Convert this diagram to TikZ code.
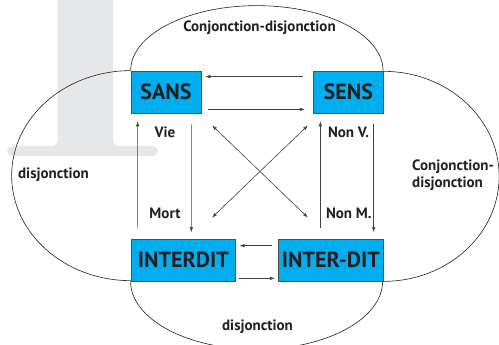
\documentclass[tikz,border=0pt]{standalone}
\usepackage{fontspec}
\setmainfont{PT Sans}
\usepackage{tikz}
\usetikzlibrary{calc,arrows.meta}
\definecolor{boxblue}{HTML}{00AEEF}
\definecolor{inkdark}{HTML}{231F20}
\definecolor{markgrey}{HTML}{E6E7E8}
\tikzset{
  word/.style={draw=inkdark!80,line width=0.7pt,fill=boxblue,text=inkdark,
    font=\bfseries\fontsize{22}{22}\selectfont,minimum height=42pt,inner sep=0pt},
  lobe/.style={draw=inkdark,line width=0.6pt},
  link/.style={draw=inkdark!85,line width=0.6pt,-{Latex[length=5pt,width=3.5pt]}},
  twolink/.style={link,{Latex[length=5pt,width=3.5pt]}-{Latex[length=5pt,width=3.5pt]}},
  tag/.style={text=inkdark,font=\bfseries\fontsize{15}{17}\selectfont,inner sep=0pt}
}

\begin{document}
\begin{tikzpicture}[x=1pt,y=1pt]
\useasboundingbox (0,0) rectangle (499,345);
\fill[white] (0,0) rectangle (499,345);
% Grey letter in the background
\fill[markgrey,rounded corners=6pt] (58,352) -- (58,199) -- (7,199) -- (7,189)
  -- (158,189) -- (158,199) -- (113,199) -- (113,352) -- cycle;
% Drawing the four boxes
\node[word,minimum width=70pt] (sans) at (166,253) {SANS};
\node[word,minimum width=70pt] (sens) at (348.3,253) {SENS};
\node[word,minimum width=104.7pt] (interdit) at (183.3,85) {INTERDIT};
\node[word,minimum width=105pt] (interdit2) at (330.8,85) {INTER-DIT};
% Drawing the four lobes
\draw[lobe] (sans.north west) arc[start angle=180,end angle=0,x radius=126.2pt,y radius=65pt];
\draw[lobe] (sans.north west) arc[start angle=90,end angle=270,x radius=119pt,y radius=105pt];
\draw[lobe] (interdit2.south east) arc[start angle=-90,end angle=90,x radius=115.5pt,y radius=105pt];
\draw[lobe] (interdit.south west) arc[start angle=180,end angle=360,x radius=126pt,y radius=68pt];
% Horizontal arrows
\draw[link] ($(sens.north west)+(-10,-6)$) -- ($(sans.north east)+(4,-6)$);
\draw[link] ($(sans.south east)+(7,4)$) -- ($(sens.south west)+(-8,4)$);
\draw[link] ($(interdit2.north west)+(-6,-7)$) -- ($(interdit.north east)+(3.5,-7)$);
\draw[link] ($(interdit.south east)+(2.5,3)$) -- ($(interdit2.south west)+(-3,3)$);
% Vertical arrows
\draw[link] ($(interdit.north west)+(7,11)$) -- ($(sans.south west)+(7,-8)$);
\draw[link] ($(sans.south west)+(60.7,-11)$) -- ($(interdit.north west)+(60.7,6.5)$);
\draw[link] ($(interdit2.north west)+(42.4,11)$) -- ($(sens.south west)+(7.4,-8)$);
\draw[link] ($(sens.south west)+(60.7,-11)$) -- ($(interdit2.north west)+(95.7,6.5)$);
% Diagonal arrows
\draw[twolink] ($(sans.south east)+(10.7,-12)$) -- ($(interdit2.north west)+(30,21)$);
\draw[twolink] ($(interdit.north east)+(-24,21)$) -- ($(sens.south west)+(-5,-12)$);
% Labels
\node[tag] (topword) at (259.5,317) {Conjonction-disjonction};
\node[tag] (leftword) at (53.5,170) {disjonction};
\node[tag] (bottomword) at (257.5,18) {disjonction};
\node[tag,align=left,anchor=west] (rightword) at (412,169.5) {Conjonction-\\disjonction};
\node[tag] (vie) at (165,213) {Vie};
\node[tag] (mort) at (165,132) {Mort};
\node[tag] (nonv) at (348.5,213) {Non V.};
\node[tag] (nonm) at (348.8,132) {Non M.};
\end{tikzpicture}
\end{document}
